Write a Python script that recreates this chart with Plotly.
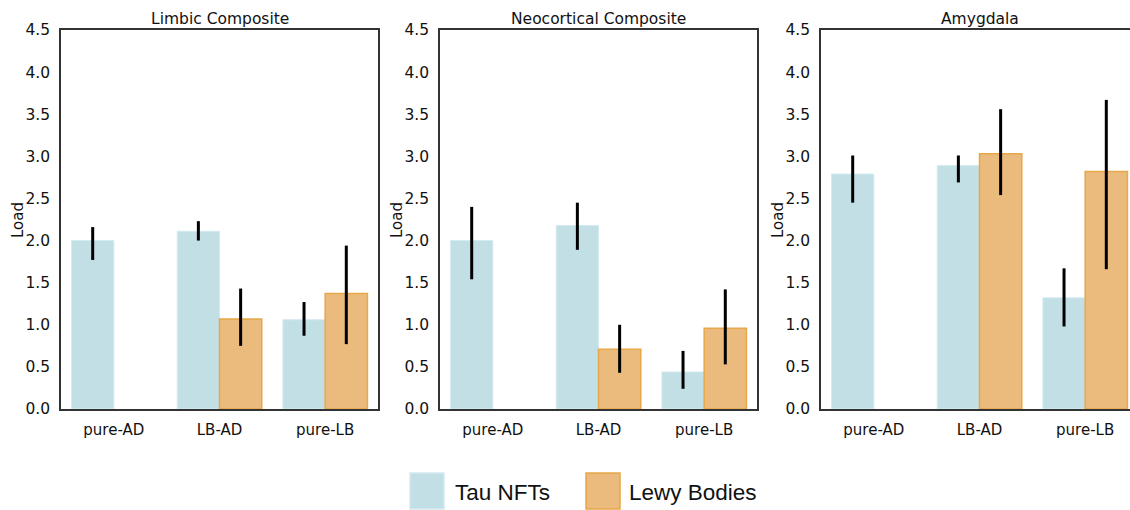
import plotly.graph_objects as go

W, H = 1130, 510

categories = ["pure-AD", "LB-AD", "pure-LB"]
panel_titles = ["Limbic Composite", "Neocortical Composite", "Amygdala"]
series_names = ["Tau NFTs", "Lewy Bodies"]
y_ticks = [0.0, 0.5, 1.0, 1.5, 2.0, 2.5, 3.0, 3.5, 4.0, 4.5]

# Limbic Composite
limbic_tau = [2.00, 2.11, 1.06]
limbic_tau_lo = [1.77, 2.00, 0.87]
limbic_tau_hi = [2.16, 2.23, 1.27]
limbic_lewy = [None, 1.07, 1.37]
limbic_lewy_lo = [None, 0.75, 0.77]
limbic_lewy_hi = [None, 1.43, 1.94]

# Neocortical Composite
neo_tau = [2.00, 2.18, 0.44]
neo_tau_lo = [1.54, 1.89, 0.24]
neo_tau_hi = [2.40, 2.45, 0.69]
neo_lewy = [None, 0.71, 0.96]
neo_lewy_lo = [None, 0.43, 0.53]
neo_lewy_hi = [None, 1.00, 1.42]

# Amygdala
amy_tau = [2.79, 2.89, 1.32]
amy_tau_lo = [2.45, 2.69, 0.98]
amy_tau_hi = [3.01, 3.01, 1.67]
amy_lewy = [None, 3.03, 2.82]
amy_lewy_lo = [None, 2.54, 1.66]
amy_lewy_hi = [None, 3.56, 3.67]

panels = [
    (limbic_tau, limbic_tau_lo, limbic_tau_hi, limbic_lewy, limbic_lewy_lo, limbic_lewy_hi),
    (neo_tau, neo_tau_lo, neo_tau_hi, neo_lewy, neo_lewy_lo, neo_lewy_hi),
    (amy_tau, amy_tau_lo, amy_tau_hi, amy_lewy, amy_lewy_lo, amy_lewy_hi),
]

BLUE = "#c2dfe6"
BLUE_EDGE = "#d3eaf0"
ORANGE = "#eabb7d"
ORANGE_EDGE = "#e8a748"
AXIS_COLOR = "#333333"
FONT = "DejaVu Sans"

# pixel layout of panels
px_left = [61, 440, 821]
px_width = 317
px_top, px_bottom = 30, 409


def plus(v, hi):
    return [None if a is None else b - a for a, b in zip(v, hi)]


def minus(v, lo):
    return [None if a is None else a - b for a, b in zip(v, lo)]


fig = go.Figure()
layout = {}
for i, (tau, tlo, thi, lew, llo, lhi) in enumerate(panels):
    n = "" if i == 0 else str(i + 1)
    xa, ya = "x" + n, "y" + n
    for vals, lo, hi, col, edge, ew, name in [
        (tau, tlo, thi, BLUE, BLUE_EDGE, 1, series_names[0]),
        (lew, llo, lhi, ORANGE, ORANGE_EDGE, 1.5, series_names[1]),
    ]:
        fig.add_trace(go.Bar(
            x=categories, y=vals, name=name, xaxis=xa, yaxis=ya,
            showlegend=False, offsetgroup=name,
            marker=dict(color=col, line=dict(color=edge, width=ew)),
            error_y=dict(type="data", symmetric=False,
                         array=plus(vals, hi), arrayminus=minus(vals, lo),
                         color="black", thickness=3, width=0),
        ))
    x0 = px_left[i] / W
    x1 = min((px_left[i] + px_width) / W, 1.0)
    span = (x1 * W - px_left[i]) / px_width * 3
    layout["xaxis" + n] = dict(
        domain=[x0, x1], anchor=ya, range=[-0.5, -0.5 + span],
        type="category", categoryorder="array", categoryarray=categories,
        showline=True, linecolor=AXIS_COLOR, linewidth=1.5, mirror=True,
        ticks="outside", ticklen=6, tickcolor="rgba(0,0,0,0)",
        showgrid=False, zeroline=False, automargin=False,
        tickfont=dict(family=FONT, size=15, color="#111"),
    )
    layout["yaxis" + n] = dict(
        domain=[1 - px_bottom / H, 1 - px_top / H], anchor=xa,
        range=[0, 4.5], tickvals=y_ticks,
        ticktext=[f"{t:.1f}" for t in y_ticks],
        showline=True, linecolor=AXIS_COLOR, linewidth=1.5,
        mirror=(i < 2),
        ticks="outside", ticklen=6, tickcolor="rgba(0,0,0,0)",
        showgrid=False, zeroline=False, automargin=False,
        tickfont=dict(family=FONT, size=15.5, color="#111"),
    )

annotations = []
for i, t in enumerate(panel_titles):
    cx = (px_left[i] + px_width / 2) / W
    annotations.append(dict(text=t, x=cx, y=1 - 19 / H, xref="paper", yref="paper",
                            xanchor="center", yanchor="middle", showarrow=False,
                            font=dict(family=FONT, size=15.5, color="#111")))
    annotations.append(dict(text="Load", x=(px_left[i] - 43) / W, y=1 - 220 / H,
                            xref="paper", yref="paper", textangle=-90,
                            xanchor="center", yanchor="middle", showarrow=False,
                            font=dict(family=FONT, size=15, color="#111")))

# manual legend with large swatches
shapes = []
legend_items = [(series_names[0], BLUE, BLUE_EDGE, 410, 453), (series_names[1], ORANGE, ORANGE_EDGE, 586, 627)]
for name, col, edge, sx, tx in legend_items:
    shapes.append(dict(type="rect", xref="paper", yref="paper",
                       x0=sx / W, x1=(sx + 34) / W, y0=1 - 509 / H, y1=1 - 473 / H,
                       fillcolor=col, line=dict(color=edge, width=1.5)))
    annotations.append(dict(text=name, x=tx / W, y=1 - 492 / H, xref="paper", yref="paper",
                            xanchor="left", yanchor="middle", showarrow=False,
                            font=dict(family="Liberation Sans", size=22.5, color="#111")))

fig.update_layout(
    **layout,
    width=W, height=H,
    margin=dict(l=0, r=0, t=0, b=0),
    paper_bgcolor="white", plot_bgcolor="white",
    barmode="group", bargap=0.2, bargroupgap=0,
    annotations=annotations, shapes=shapes,
    showlegend=False,
)

fig.write_html("out.html",
               config={"displayModeBar": False},
               post_script="document.body.style.margin='0';document.body.style.overflow='hidden';")
